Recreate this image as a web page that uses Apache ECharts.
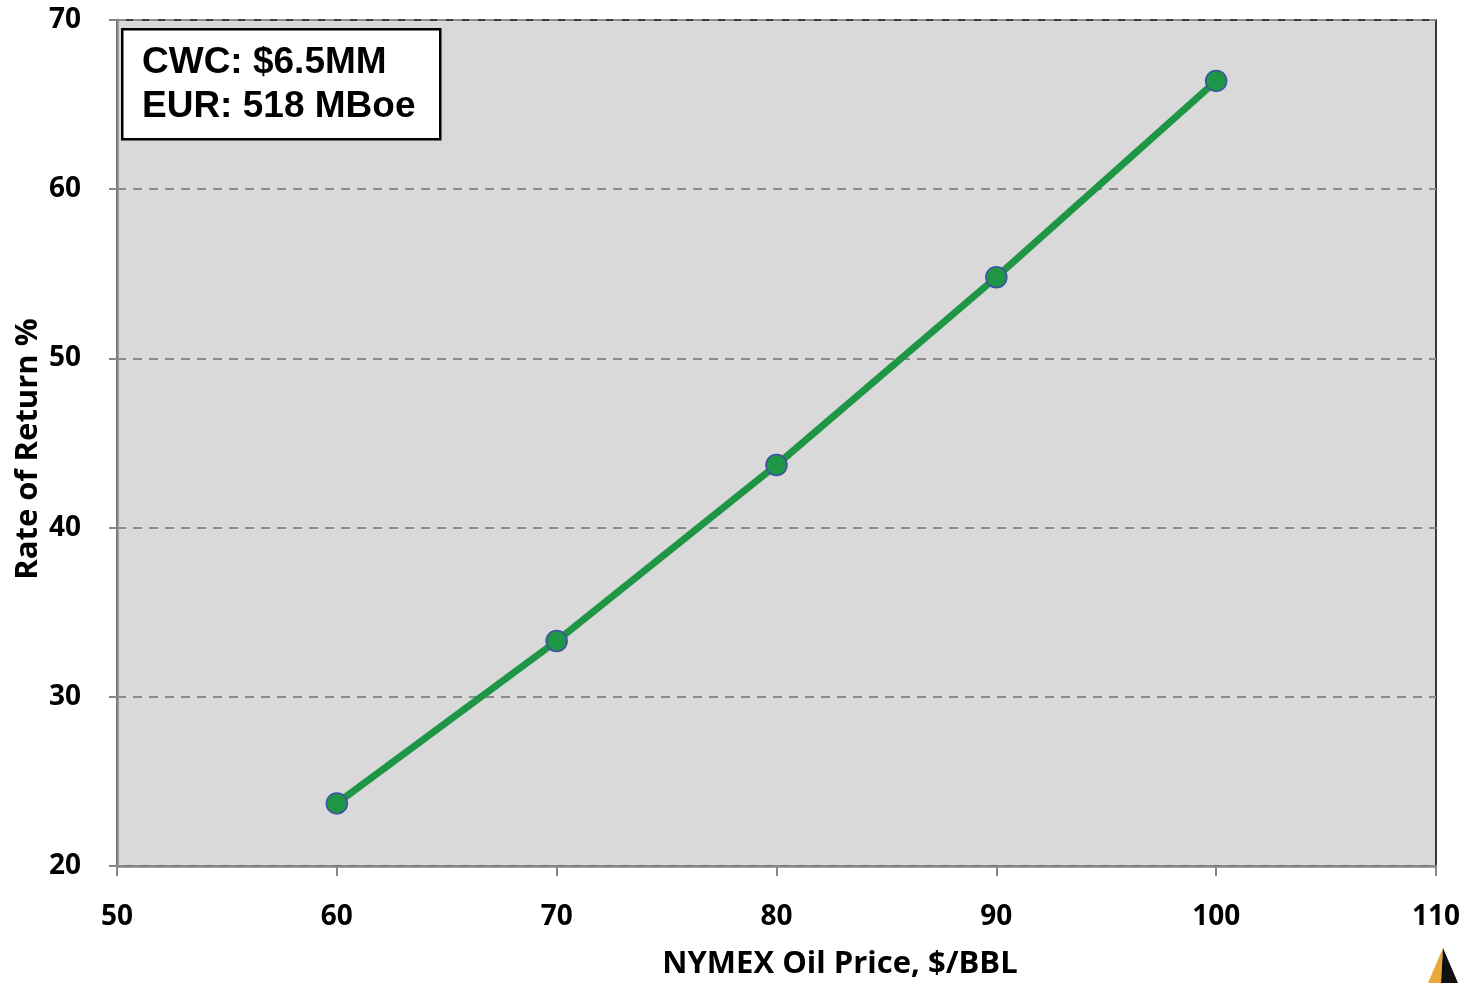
<!DOCTYPE html>
<html>
<head>
<meta charset="utf-8">
<script src="https://cdn.jsdelivr.net/npm/echarts@6/dist/echarts.min.js"></script>
<style>
html,body{margin:0;padding:0;background:#fff;}
#chart{width:1470px;height:983px;}
</style>
</head>
<body>
<div id="chart"></div>
<script>
const oilPrices = [60, 70, 80, 90, 100];
const rateOfReturn = [23.7, 33.3, 43.7, 54.8, 66.4];
const annotationLines = ['CWC: $6.5MM', 'EUR: 518 MBoe'];
const xAxisTitle = 'NYMEX Oil Price, $/BBL';
const yAxisTitle = 'Rate of Return %';

const chart = echarts.init(document.getElementById('chart'));
const tickFont = {fontFamily: 'Open Sans', fontWeight: 'bold', fontSize: 28, color: '#000'};
const titleFont = 'bold 31px "Open Sans"';
chart.setOption({
  animation: false,
  backgroundColor: '#fff',
  grid: {left: 117, right: 34, top: 20, bottom: 117, show: true,
         backgroundColor: '#d9d9d9', borderColor: '#000', borderWidth: 1.5},
  xAxis: {
    type: 'value', min: 50, max: 110, interval: 10,
    axisLine: {show: true, lineStyle: {color: '#878787', width: 2.5}},
    axisTick: {show: true, length: 10, lineStyle: {color: '#878787', width: 2}},
    axisLabel: Object.assign({margin: 37}, tickFont),
    splitLine: {show: false}
  },
  yAxis: {
    type: 'value', min: 20, max: 70, interval: 10,
    axisLine: {show: true, lineStyle: {color: '#878787', width: 2.5}},
    axisTick: {show: true, length: 8, lineStyle: {color: '#878787', width: 2}},
    axisLabel: Object.assign({margin: 36}, tickFont),
    splitLine: {show: true, lineStyle: {color: '#8c8c8c', width: 2, type: [9, 7]}}
  },
  series: [{
    type: 'line',
    data: oilPrices.map((x, i) => [x, rateOfReturn[i]]),
    lineStyle: {color: '#1e9645', width: 7},
    symbol: 'circle', symbolSize: 21,
    itemStyle: {color: '#1e9645', borderColor: '#3f4fa8', borderWidth: 1.5},
    z: 3
  }],
  graphic: [
    {type: 'rect', left: 121, top: 28, shape: {width: 318, height: 110},
     style: {fill: '#fff', stroke: '#000', lineWidth: 2.5}, z: 10},
    {type: 'text', left: 142, top: 41, z: 11,
     style: {text: annotationLines.join('\n'), font: 'bold 37px "Liberation Sans", Arial', fill: '#000', lineHeight: 44}},
    {type: 'text', x: 840, y: 964, z: 11,
     style: {text: xAxisTitle, font: titleFont, fill: '#000', align: 'center', verticalAlign: 'middle'}},
    {type: 'text', x: 28, y: 449, rotation: Math.PI / 2, z: 11,
     style: {text: yAxisTitle, font: titleFont, fill: '#000', align: 'center', verticalAlign: 'middle'}},
    {type: 'polygon', z: 11, shape: {points: [[1443, 948], [1428, 983], [1441, 983]]},
     style: {fill: '#e8a93a'}},
    {type: 'polygon', z: 11, shape: {points: [[1443, 948], [1441, 983], [1458, 983]]},
     style: {fill: '#111'}}
  ]
});
</script>
</body>
</html>
